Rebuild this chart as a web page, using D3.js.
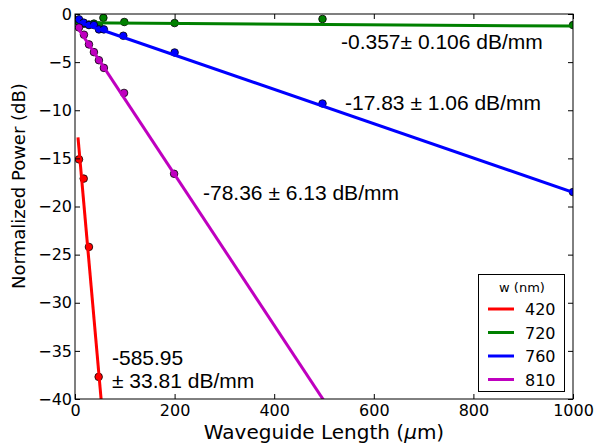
<!DOCTYPE html>
<html>
<head>
<meta charset="utf-8">
<script src="https://cdn.jsdelivr.net/npm/d3@7"></script>
<style>
  body { margin: 0; background: #fff; }
  svg { display: block; }
</style>
</head>
<body>
<svg id="canvas" width="600" height="445"></svg>
<script>
let widths = ['420', '720', '760', '810']
let colors = ['#ff0000', '#008000', '#0000ff', '#bf00bf']

let x420 = [8, 17.5, 28, 47.5]
let y420 = [-15.1, -17.1, -24.2, -37.7]
let x720 = [8, 18, 28, 38, 48, 57, 99, 200, 497, 1000]
let y720 = [-0.9, -1.0, -1.1, -1.0, -1.2, -0.4, -0.83, -0.94, -0.52, -1.15]
let x760 = [8, 17.5, 28, 38, 48, 58, 97, 200, 497, 1000]
let y760 = [-0.55, -0.9, -1.15, -1.15, -1.6, -1.6, -2.26, -4.0, -9.3, -18.5]
let x810 = [8, 18, 28, 38, 48, 58, 98.5, 199]
let y810 = [-1.4, -2.15, -3.16, -3.96, -4.8, -5.6, -8.2, -16.6]

// fits: slope dB/mm, intercept dB, x range of the fitted line
let slopes = [-585.95, -0.357, -17.83, -78.36]
let intercepts = [-9.3, -0.9, -0.7, -1.0]
let fitRange = [[6, 60], [6, 1000], [6, 1000], [6, 520]]
let fitLabels = [['-585.95', '\u00b1 33.81 dB/mm'], ['-0.357\u00b1 0.106 dB/mm'],
                 ['-17.83 \u00b1 1.06 dB/mm'], ['-78.36 \u00b1 6.13 dB/mm']]

let xTicks = [0, 200, 400, 600, 800, 1000]
let yTicks = [0, -5, -10, -15, -20, -25, -30, -35, -40]

let canvas = d3.select('#canvas')
let pLeft = 75, pRight = 573, pTop = 14, pBottom = 399

let xScale = d3.scaleLinear().domain([0, 1000]).range([pLeft, pRight])
let yScale = d3.scaleLinear().domain([-40, 0]).range([pBottom, pTop])

canvas.append('clipPath').attr('id', 'plot')
  .append('rect').attr('x', pLeft).attr('y', pTop)
  .attr('width', pRight - pLeft).attr('height', pBottom - pTop)

let series = [
  {xs: x420, ys: y420},
  {xs: x720, ys: y720},
  {xs: x760, ys: y760},
  {xs: x810, ys: y810}
]

let g = canvas.append('g').attr('clip-path', 'url(#plot)')

series.forEach((s, i) => {
  let pts = s.xs.map((x, j) => [x, s.ys[j]])
  // markers first, fit line on top
  g.selectAll('.m' + i)
    .data(pts)
    .enter().append('circle')
    .attr('cx', d => xScale(d[0]))
    .attr('cy', d => yScale(d[1]))
    .attr('r', 3.8)
    .style('fill', colors[i])
    .style('stroke', 'black')
    .style('stroke-width', 0.8)
  let line = fitRange[i].map(x => [x, intercepts[i] + slopes[i] * x / 1000])
  g.append('path')
    .attr('d', d3.line().x(d => xScale(d[0])).y(d => yScale(d[1]))(line))
    .style('fill', 'none')
    .style('stroke', colors[i])
    .style('stroke-width', 3)
})

// frame and ticks on all four sides (inward)
canvas.append('g')
  .attr('transform', `translate(0,${pBottom})`)
  .call(d3.axisBottom(xScale).tickValues(xTicks).tickSizeInner(-5).tickSizeOuter(0).tickPadding(6).tickFormat(d3.format('d')))
canvas.append('g')
  .attr('transform', `translate(0,${pTop})`)
  .call(d3.axisTop(xScale).tickValues(xTicks).tickSizeInner(-5).tickSizeOuter(0).tickFormat(''))
canvas.append('g')
  .attr('transform', `translate(${pLeft},0)`)
  .call(d3.axisLeft(yScale).tickValues(yTicks).tickSizeInner(-5).tickSizeOuter(0).tickPadding(3)
    .tickFormat(d => d < 0 ? '\u2212' + Math.abs(d) : d.toString()))
canvas.append('g')
  .attr('transform', `translate(${pRight},0)`)
  .call(d3.axisRight(yScale).tickValues(yTicks).tickSizeInner(-5).tickSizeOuter(0).tickFormat(''))

canvas.selectAll('.domain').remove()
canvas.selectAll('.tick text')
  .style('font-family', 'DejaVu Sans')
  .style('font-size', '16px')
  .style('fill', 'black')
canvas.selectAll('.tick line').style('stroke', 'black')

canvas.append('rect')
  .attr('x', pLeft).attr('y', pTop)
  .attr('width', pRight - pLeft).attr('height', pBottom - pTop)
  .style('fill', 'none').style('stroke', 'black').style('stroke-width', 1)

// axis titles
let xl = canvas.append('text')
  .attr('x', 324).attr('y', 439)
  .attr('text-anchor', 'middle')
  .style('font-family', 'DejaVu Sans').style('font-size', '20px')
xl.append('tspan').text('Waveguide Length (')
xl.append('tspan').style('font-style', 'italic').text('\u03bc')
xl.append('tspan').text('m)')

canvas.append('text')
  .attr('transform', 'translate(25,186) rotate(-90)')
  .attr('text-anchor', 'middle')
  .style('font-family', 'DejaVu Sans').style('font-size', '18px')
  .text('Normalized Power (dB)')

// fit annotations
let annX = [112, 341, 345, 203]
let annY = [365, 49, 110, 200]
fitLabels.forEach((lines, i) => {
  lines.forEach((t, k) => {
    canvas.append('text')
      .attr('x', annX[i]).attr('y', annY[i] + k * 23)
      .style('font-family', 'Liberation Sans').style('font-size', '21px')
      .text(t)
  })
})

// legend
let lg = canvas.append('g')
lg.append('rect').attr('x', 478.5).attr('y', 274.5).attr('width', 86).attr('height', 117)
  .style('fill', 'white').style('stroke', 'black').style('stroke-width', 1)
lg.append('text').attr('x', 522).attr('y', 292).attr('text-anchor', 'middle')
  .style('font-family', 'DejaVu Sans').style('font-size', '13px').text('w (nm)')
widths.forEach((w, i) => {
  let yy = 309 + i * 23.5
  lg.append('line').attr('x1', 488).attr('x2', 514).attr('y1', yy).attr('y2', yy)
    .style('stroke', colors[i]).style('stroke-width', 3)
  lg.append('text').attr('x', 525).attr('y', yy + 6)
    .style('font-family', 'DejaVu Sans').style('font-size', '16px').text(w)
})
</script>
</body>
</html>
